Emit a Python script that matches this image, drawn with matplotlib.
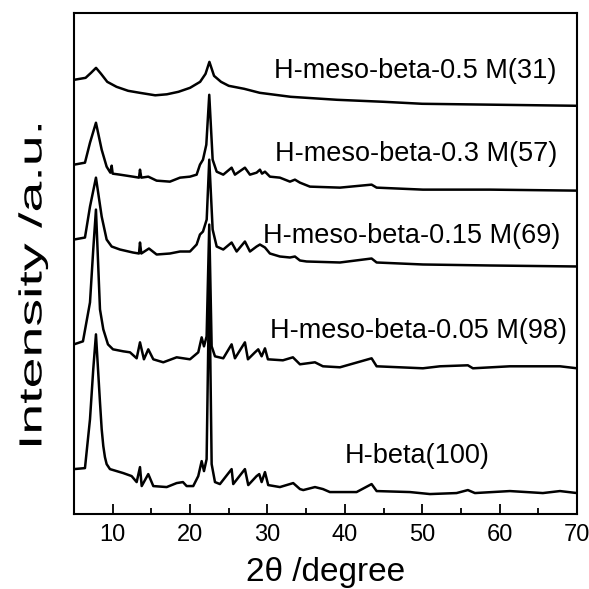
import numpy as np
import matplotlib.pyplot as plt
from matplotlib.ticker import MultipleLocator
from matplotlib.textpath import TextPath
from matplotlib.patches import PathPatch
from matplotlib.font_manager import FontProperties
from matplotlib.transforms import Affine2D

plt.rcParams['font.family'] = ['Liberation Sans', 'DejaVu Sans']

# ── data (2theta, intensity a.u.) ──
tt_05 = [5.0, 6.5, 7.2, 7.85, 8.5, 9.3, 10.5, 12.0, 13.5, 15.5, 17.0, 18.5, 20.0,
         21.3, 22.0, 22.5, 23.1, 24.0, 25.0, 27.0, 29.0, 31.0, 33.0, 35.0, 39.0,
         45.0, 50.0, 60.0, 70.0]
int_05 = [435, 437, 442, 447, 441, 433, 428, 424, 422, 419.5, 420.5, 423, 427,
          433, 441, 453, 439, 433, 429, 426, 422, 420, 418, 417, 415,
          413, 411, 410, 409]

tt_03 = [5.0, 6.42, 7.07, 7.84, 8.58, 9.22, 9.7, 9.87, 10.0, 10.94, 12.62, 13.4, 13.53,
         13.7, 14.6, 15.68, 17.4, 18.7, 19.99, 20.85, 21.28, 21.67, 22.1, 22.48, 22.92,
         23.44, 24.29, 25.37, 25.8, 27.09, 27.74, 28.6, 29.03, 29.3, 29.68, 30.32,
         31.61, 32.91, 33.55, 34.2, 35.49, 39.37, 43.46, 44.11, 50.09, 58.75, 70.0]
int_03 = [350, 352, 372, 392, 365, 348, 342, 349, 341, 340, 338, 337, 345,
          337, 338, 334, 333, 337, 338, 340, 350, 355, 370, 420, 355,
          343, 340, 347, 340, 347, 340, 342, 345, 341, 343, 338,
          337, 333, 335, 332, 328, 327, 330, 327, 325, 325, 324]

tt_015 = [5.0, 6.42, 7.07, 7.84, 8.58, 9.22, 9.87, 10.94, 12.62, 13.4, 13.53, 13.7,
          14.69, 15.68, 17.4, 18.7, 19.99, 20.85, 21.28, 21.67, 22.15, 22.48, 22.92,
          23.44, 24.29, 25.37, 26.02, 27.09, 27.74, 28.6, 29.03, 29.68, 30.32, 31.61,
          32.91, 33.55, 34.2, 35.06, 39.37, 43.46, 44.11, 50.09, 58.75, 70.0]
int_015 = [275, 277, 308, 337, 298, 275, 268, 265, 262, 261, 272, 261,
           266, 260, 261, 263, 263, 270, 280, 283, 295, 355, 285,
           268, 265, 272, 263, 273, 263, 268, 270, 267, 261, 258,
           257, 258, 254, 253, 252, 256, 252, 250, 249, 248]

tt_005 = [5.0, 6.16, 7.07, 7.49, 7.84, 8.36, 8.79, 9.39, 10.04, 11.37, 12.24, 13.1,
          13.53, 14.04, 14.6, 15.25, 16.54, 18.27, 19.99, 21.06, 21.5, 21.8, 22.14,
          22.48, 22.79, 23.22, 24.29, 25.37, 25.8, 27.09, 27.48, 28.39, 28.81, 29.25,
          29.68, 30.06, 32.0, 33.29, 34.2, 36.14, 37.17, 39.37, 43.46, 44.11, 50.09,
          52.29, 55.9, 56.55, 61.33, 67.8, 70.0]
int_005 = [170, 173, 212, 265, 305, 205, 185, 170, 165, 163, 162, 156,
           172, 155, 165, 155, 152, 157, 155, 162, 177, 168, 178,
           290, 168, 158, 156, 170, 156, 172, 155, 162, 165, 158,
           166, 155, 154, 157, 150, 152, 148, 147, 156, 148, 146,
           148, 149, 146, 148, 148, 146]

tt_hb = [5.0, 6.42, 7.07, 7.49, 7.84, 8.36, 8.58, 8.79, 9.0, 9.22, 9.65, 11.37, 12.45, 13.1,
         13.53, 13.75, 14.6, 15.25, 16.98, 18.27, 19.08, 19.56, 20.41, 21.06, 21.5,
         21.8, 22.14, 22.48, 22.79, 23.22, 23.86, 25.37, 25.58, 27.09, 27.52, 28.6,
         28.94, 29.25, 29.68, 30.1, 31.61, 33.33, 34.2, 34.63, 36.14, 37.17, 38.07,
         41.52, 43.46, 44.11, 48.41, 51.0, 54.44, 55.9, 56.81, 61.33, 65.59, 67.8, 70.0]
int_hb = [45, 46, 95, 145, 180, 112, 85, 68, 57, 50, 45, 41, 38, 32,
          47, 28, 40, 28, 27, 31, 32, 28, 28, 38, 53,
          43, 55, 240, 50, 32, 30, 45, 30, 45, 29, 38,
          40, 32, 42, 29, 27, 31, 25, 24, 27, 25, 22,
          22, 30, 23, 22, 20, 21, 24, 21, 23, 21, 23, 21]

curves = [(tt_05, int_05), (tt_03, int_03), (tt_015, int_015),
          (tt_005, int_005), (tt_hb, int_hb)]

labels = ['H-meso-beta-0.5 M(31)', 'H-meso-beta-0.3 M(57)',
          'H-meso-beta-0.15 M(69)', 'H-meso-beta-0.05 M(98)', 'H-beta(100)']
label_x = [67.4, 67.4, 67.8, 68.7, 49.4]
label_y = [444, 361, 279, 183, 58]

fig = plt.figure(figsize=(5.89, 5.89), dpi=100)
ax = fig.add_axes([0.1256, 0.1273, 0.854, 0.8507])

for (x, y) in curves:
    ax.plot(x, y, color='black', linewidth=1.8)

for lab, lx, ly, i in zip(labels, label_x, label_y, range(5)):
    ha = 'right' if i < 4 else 'center'
    ax.text(lx, ly, lab, fontsize=19.5, ha=ha, va='center')

ax.set_xlim(5, 70)
ax.set_ylim(0, 502)
ax.xaxis.set_major_locator(MultipleLocator(10))
ax.xaxis.set_minor_locator(MultipleLocator(5))
ax.tick_params(axis='x', which='major', direction='in', length=7.5, width=1.3,
               labelsize=17, pad=7)
ax.tick_params(axis='x', which='minor', direction='in', length=4, width=1.3)
ax.set_yticks([])
for s in ax.spines.values():
    s.set_linewidth(1.5)

ax.set_xlabel('2θ /degree', fontsize=24, labelpad=8)

# y label is drawn stretched along its length, as in the original picture
ylab = 'Intensity /a.u.'
tp = TextPath((0, 0), ylab, size=32, prop=FontProperties(family='Liberation Sans'))
bb = tp.get_extents()
cap = 0.716 * 32
length_px = 320.0
sx = length_px / bb.width
tr = (Affine2D().translate(-(bb.x0 + bb.width / 2), -cap / 2)
      .scale(sx, 1.0).rotate_deg(90).translate(30, 589 - 285))
fig.add_artist(PathPatch(tp, transform=tr, facecolor='black', edgecolor='none'))

fig.savefig('out.png', dpi=100)
